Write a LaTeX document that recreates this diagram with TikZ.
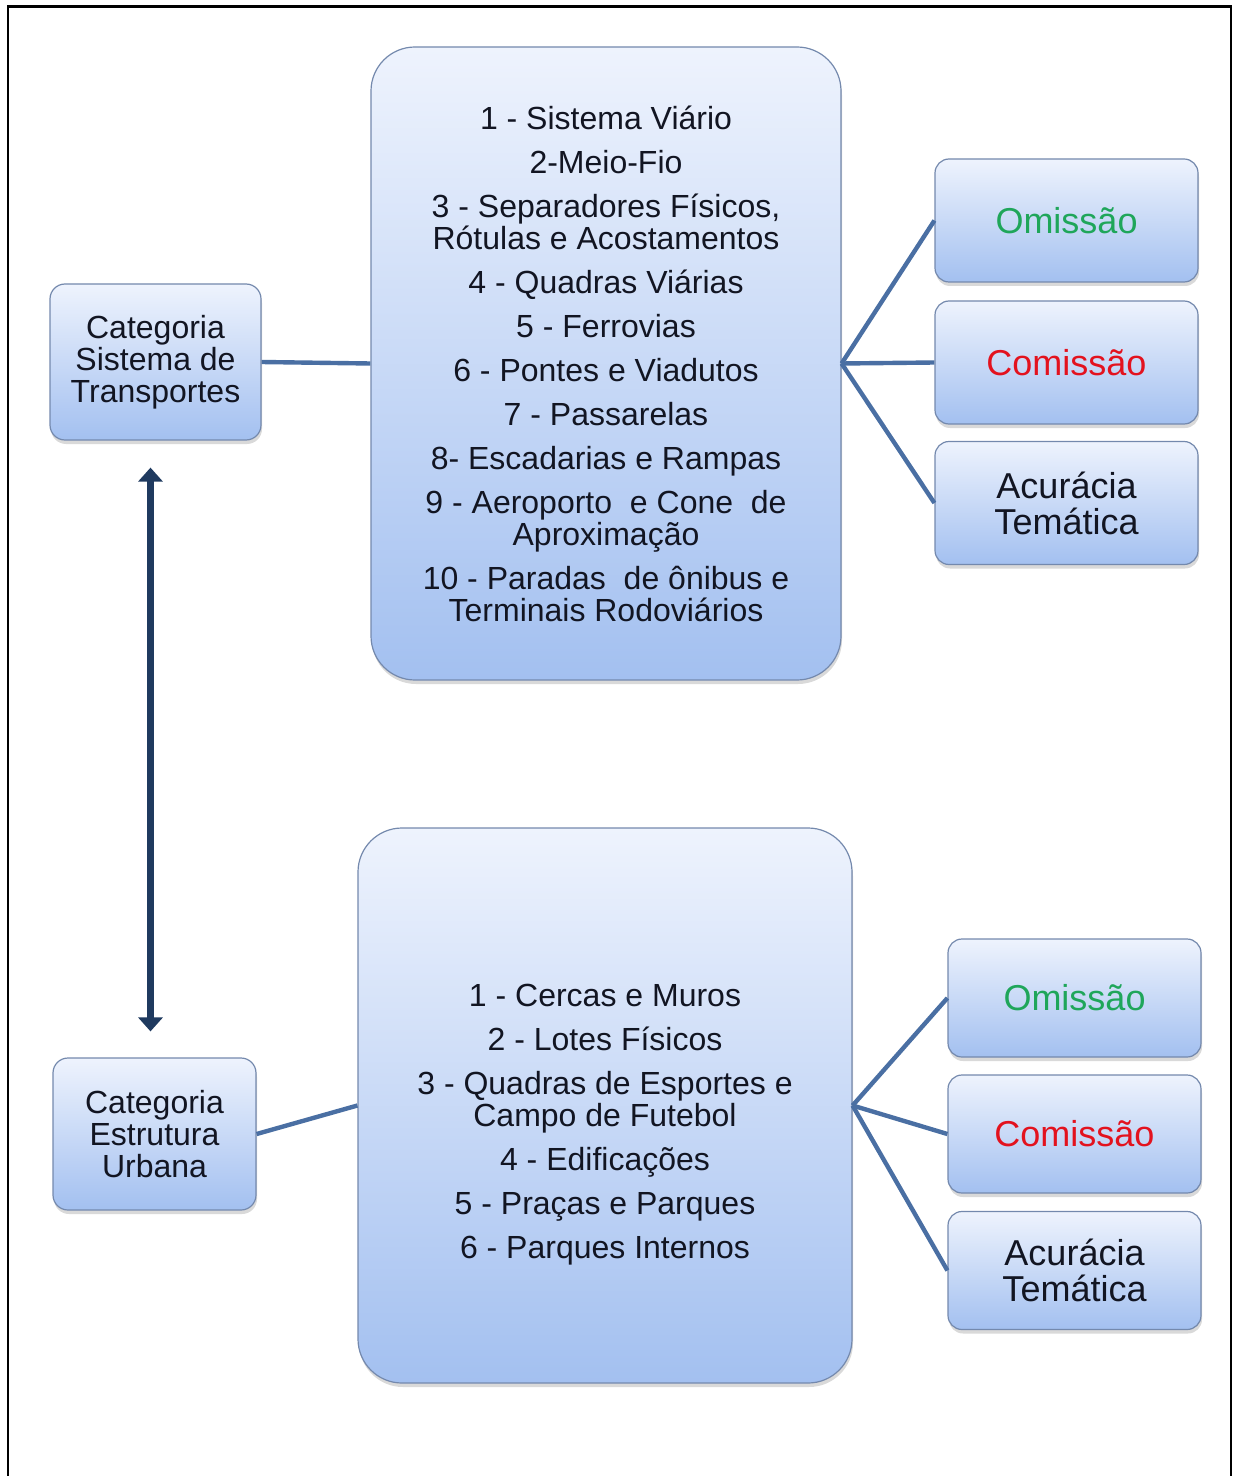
\documentclass[tikz,border=0pt]{standalone}
\usepackage{fontspec}
\setmainfont{Liberation Sans}
\usepackage{xcolor}
\definecolor{linkblue}{HTML}{4A6FA3}
\definecolor{arrownavy}{HTML}{1F3A5F}
\definecolor{boxtop}{HTML}{EEF3FD}
\definecolor{boxbottom}{HTML}{A3C0F0}
\definecolor{boxline}{HTML}{7489AD}
\definecolor{txtdark}{HTML}{121522}
\definecolor{omgreen}{HTML}{1FA65A}
\definecolor{comred}{HTML}{E3121E}
\usetikzlibrary{arrows.meta, shadows}

\begin{document}
\begin{tikzpicture}[
  x=0.5pt, y=-0.5pt,
  box/.style={draw=boxline, line width=0.6pt, top color=boxtop, bottom color=boxbottom, drop shadow={opacity=0.3, shadow xshift=0.5pt, shadow yshift=-2pt}, text=txtdark, align=center, inner sep=0pt},
  catbox/.style={box, rounded corners=7.5pt, font=\fontsize{16}{16}\selectfont},
  listbox/.style={box, rounded corners=22pt},
  listtext/.style={align=center, text=txtdark, font=\fontsize{16}{16}\selectfont},
  errbox/.style={box, rounded corners=7pt, font=\fontsize{18}{18}\selectfont},
  link/.style={draw=linkblue, line width=2.2pt},
  twoway/.style={{Triangle[width=12pt,length=7pt]}-{Triangle[width=12pt,length=7pt]}, line width=3.5pt, color=arrownavy}
]
  \useasboundingbox (0,0) rectangle (1237,1476);
  \draw[line width=1.2pt] (8,1476) -- (8,6.5) -- (1231,6.5) -- (1231,1476);

  % transportes
  \node[catbox, minimum width=105.5pt, minimum height=78pt] (catTransp) at (155.5,362) {Categoria\\Sistema de\\Transportes};
  \node[listbox, listtext, minimum width=235pt, minimum height=316.5pt] (listTransp) at (606,363.5) {1 - Sistema Viário\\[6pt]
    2-Meio-Fio\\[6pt]
    3 - Separadores Físicos,\\Rótulas e Acostamentos\\[6pt]
    4 - Quadras Viárias\\[6pt]
    5 - Ferrovias\\[6pt]
    6 - Pontes e Viadutos\\[6pt]
    7 - Passarelas\\[6pt]
    8- Escadarias e Rampas\\[6pt]
    9 - Aeroporto\ \ e Cone\ \ de\\Aproximação\\[6pt]
    10 - Paradas\ \ de ônibus e\\Terminais Rodoviários};
  \node[errbox, minimum width=131.5pt, minimum height=61.5pt, text=omgreen] (omTransp)  at (1066.5,220.5) {Omissão};
  \node[errbox, minimum width=131.5pt, minimum height=61.5pt, text=comred]  (comTransp) at (1066.5,362.5) {Comissão};
  \node[errbox, minimum width=131.5pt, minimum height=61.5pt] (acuTransp) at (1066.5,503) {Acurácia\\Temática};

  % estrutura urbana
  \node[catbox, minimum width=101.5pt, minimum height=76pt] (catUrb) at (154.5,1134) {Categoria\\Estrutura\\Urbana};
  \node[listbox, minimum width=247pt, minimum height=277.5pt] (listUrb) at (605,1105.5) {};
  \node[listtext] (listUrbText) at (605,1125) {1 - Cercas e Muros\\[6pt]
    2 - Lotes Físicos\\[6pt]
    3 - Quadras de Esportes e\\Campo de Futebol\\[6pt]
    4 - Edificações\\[6pt]
    5 - Praças e Parques\\[6pt]
    6 - Parques Internos};
  \node[errbox, minimum width=126.5pt, minimum height=59pt, text=omgreen] (omUrb)  at (1074.5,998) {Omissão};
  \node[errbox, minimum width=126.5pt, minimum height=59pt, text=comred]  (comUrb) at (1074.5,1134) {Comissão};
  \node[errbox, minimum width=126.5pt, minimum height=59pt] (acuUrb) at (1074.5,1270.5) {Acurácia\\Temática};

  \draw[link] (catTransp.east) -- (listTransp.west);
  \draw[link] (listTransp.east) -- (omTransp.west);
  \draw[link] (listTransp.east) -- (comTransp.west);
  \draw[link] (listTransp.east) -- (acuTransp.west);

  \draw[link] (catUrb.east) -- (listUrb.west);
  \draw[link] (listUrb.east) -- (omUrb.west);
  \draw[link] (listUrb.east) -- (comUrb.west);
  \draw[link] (listUrb.east) -- (acuUrb.west);

  \draw[twoway] ([xshift=-2.5pt,yshift=-13.5pt]catTransp.south) -- ([xshift=-2pt,yshift=13pt]catUrb.north);
\end{tikzpicture}
\end{document}
